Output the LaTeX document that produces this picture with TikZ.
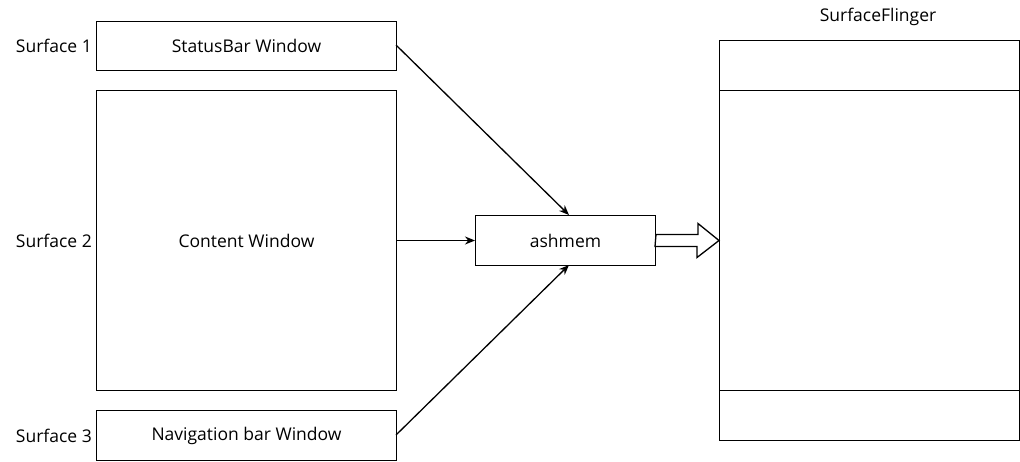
\documentclass[tikz,border=0pt]{standalone}
\usepackage{fontspec}
\setmainfont{Open Sans}
\usetikzlibrary{arrows.meta}
\begin{document}
\begin{tikzpicture}[x=1pt,y=-1pt,
  box/.style={draw,line width=1pt,fill=white,inner sep=0pt,anchor=north west},
  lbl/.style={font=\fontsize{17.5}{20}\selectfont,inner sep=0pt},
  conn/.style={line width=1.3pt,-{Stealth[length=10pt,width=8pt]}}]
\useasboundingbox (0,0) rectangle (1020,461);
\node[box,minimum width=300pt,minimum height=49pt] (sb) at (96,21) {};
\node[lbl] at (sb.center) {StatusBar Window};
\node[box,minimum width=300pt,minimum height=300pt] (cw) at (96,90) {};
\node[lbl] at (cw.center) {Content Window};
\node[box,minimum width=300pt,minimum height=50pt] (nb) at (96,410) {};
\node[lbl] at (nb.center) {Navigation bar Window};
\node[lbl,anchor=east] (s1) at (92,45.5) {Surface 1};
\node[lbl,anchor=east] (s2) at (92,241) {Surface 2};
\node[lbl,anchor=east] (s3) at (92,436) {Surface 3};
\node[box,minimum width=180pt,minimum height=50pt] (ash) at (475,215) {};
\node[lbl] at (ash.center) {ashmem};
\node[box,minimum width=300pt,minimum height=400pt] (sf) at (719,40) {};
\node[lbl] (sft) at (878,17) {SurfaceFlinger};
\coordinate (l1a) at (719,90);
\coordinate (l1b) at (1019,90);
\coordinate (l2a) at (719,390);
\coordinate (l2b) at (1019,390);
\draw[line width=1pt] (l1a) -- (l1b);
\draw[line width=1pt] (l2a) -- (l2b);
\coordinate (sbout) at (396,45);
\coordinate (ashtop) at (569,215);
\coordinate (nbout) at (396,435);
\coordinate (ashbot) at (569,265);
\draw[conn] (sbout) -- (ashtop);
\draw[conn] (cw.east) -- (ash.west);
\draw[conn] (nbout) -- (ashbot);
\draw[line width=1.3pt,fill=white,line join=miter]
  (ash.east) ++(0,-6) -- ++(42,0) -- ++(0,-11) -- (sf.west) -- ++(-22,17)
  -- ++(0,-11) -- ++(-42,0) -- cycle;
\end{tikzpicture}
\end{document}
